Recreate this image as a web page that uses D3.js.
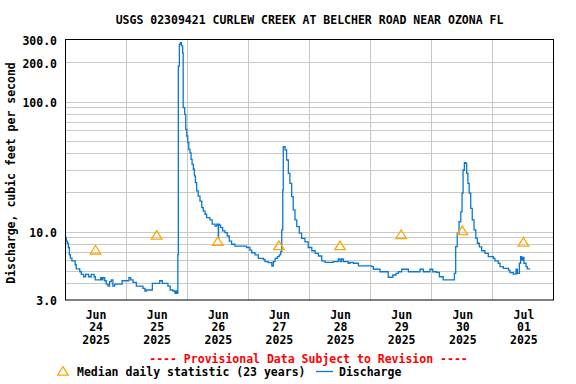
<!DOCTYPE html>
<html lang="en">
<head>
  <meta charset="UTF-8">
  <script src="https://cdnjs.cloudflare.com/ajax/libs/d3/7.8.5/d3.min.js"></script>
  <style>
    body { margin: 0; background: #fff; }
    svg text { font-family: 'DejaVu Sans Mono', monospace; font-weight: bold; font-size: 11.5px; fill: #000; }
  </style>
  <title>Curlew Creek discharge</title>
</head>
<body>
  <div id="chart"></div>
<script>
  const title = "USGS 02309421 CURLEW CREEK AT BELCHER ROAD NEAR OZONA FL";
  const yLabel = "Discharge, cubic feet per second";
  const start = new Date(Date.UTC(2025, 5, 24));
  const end = new Date(Date.UTC(2025, 6, 2));

  // hours after 2025-06-24 00:00
  const hours = [0, 0.5, 0.9, 1.3, 1.7, 2.1, 2.7, 4.0, 4.4, 5.8, 6.4, 7.3, 8.1, 9.3, 10.3, 11.4, 11.9, 14.0, 14.5, 14.9,
    15.6, 16.2, 16.9, 17.5, 18.2, 18.8, 19.5, 22.4, 25.1, 25.8, 26.7, 28.0, 30.6, 31.4, 31.9, 34.3, 37.2, 38.2, 40.4, 41.3,
    42.4, 43.2, 43.7, 44.0,
    44.3, 44.5, 44.9, 45.3, 45.7, 46.2, 46.4, 47.0, 47.4, 47.8, 48.2, 48.6, 49.1, 49.5, 49.9, 50.4, 50.8, 51.2, 51.7, 52.3,
    53.0, 53.7, 54.3, 55.0, 55.6, 56.9, 57.8, 58.9, 59.6, 60.2, 60.3, 60.6, 61.1, 61.9, 62.8, 63.7, 64.5, 65.4, 66.7, 70.7, 71.3,
    72.6, 73.3, 74.6, 75.9, 77.9, 78.5, 79.8, 81.2, 81.8, 82.5, 83.4, 84.1, 84.7, 85.1, 85.5, 85.7, 86.4, 87.0, 87.7, 88.3,
    89.0, 89.6, 90.3, 91.0, 92.0, 92.9, 94.2, 95.5, 96.9, 98.2, 99.5,
    100.8, 102.1, 104.7, 105.3, 107.3, 108.0, 108.6, 109.3, 111.2, 111.9, 113.2, 115.2, 120.4, 121.1, 123.7, 126.9, 128.7, 130.0,
    130.9, 132.2, 134.8, 138.1, 139.4, 140.7, 143.3, 144.4, 145.9, 147.0,
    148.5, 152.5, 152.9, 153.4, 154.0, 154.7, 155.4, 155.9, 156.3, 156.8, 157.3, 157.7, 158.2, 158.7, 159.3, 159.9, 160.6, 161.3,
    161.9, 162.7, 163.6, 164.9, 166.2, 168.2, 168.8, 170.1, 170.8, 172.1, 174.1, 174.7, 176.0, 177.1, 177.6, 178.4, 178.9, 179.3,
    179.7, 180.2, 181.0, 181.5, 182.6];

  const discharge = [9.1, 8.5, 8.2, 7.6, 6.7, 6.3, 6.0, 5.6, 5.2, 4.95, 4.73, 4.53, 4.73, 4.53, 4.73, 4.53, 4.28, 4.45, 4.28, 4.45,
    4.22, 3.98, 3.84, 4.15, 4.28, 3.84, 3.98, 4.22, 4.45, 4.28, 4.10, 3.84, 3.69, 3.52, 3.58, 4.03, 4.22, 4.03, 3.84, 3.58,
    3.52, 3.38, 3.52, 3.38,
    6.7, 189, 278, 286, 270, 239, 90.5, 80.4, 61.6, 54.8, 48.7, 43.3, 40.7, 36.2, 33.2, 30.4, 27.0, 24.0, 20.7, 18.9,
    17.3, 15.4, 14.5, 13.7, 12.9, 12.4, 11.5, 11.1, 11.5, 9.0, 11.5, 11.3, 10.8, 10.2, 9.9, 9.32, 8.5, 8.05, 7.8, 7.8, 7.6,
    7.27, 6.93, 6.66, 6.28, 6.17, 5.91, 5.81, 5.48, 5.91, 6.28, 6.46, 6.66, 7.06, 10.4, 21.1, 45.3, 42.8, 35.8, 28.3, 23.7,
    18.7, 14.8, 12.4, 11.0, 9.8, 8.95, 8.4, 7.6, 7.18, 6.86, 6.54,
    6.0, 5.85, 5.85, 5.91, 6.2, 5.91, 6.2, 5.91, 5.75, 5.85, 5.75, 5.5, 5.41, 5.17, 4.95, 4.49, 4.67, 4.81,
    4.95, 5.17, 4.95, 4.95, 5.17, 4.95, 5.17, 4.95, 4.9, 4.53,
    4.28, 4.28, 4.81, 7.71, 9.8, 12.0, 14.3, 19.9, 30, 34.1, 33.8, 28.3, 23.7, 19.9, 15.2, 12.4, 10.4, 8.95,
    8.2, 7.7, 7.18, 6.86, 6.46, 6.28, 6.0, 5.75, 5.41, 5.26, 5.1, 4.87, 4.75, 5.17, 4.81, 5.75, 6.46, 6.09,
    6.37, 5.75, 5.41, 5.2, 5.2];

  // median daily statistic (23 years), one per day
  const medianDays = ["2025-06-24", "2025-06-25", "2025-06-26", "2025-06-27", "2025-06-28", "2025-06-29", "2025-06-30", "2025-07-01"];
  const medianValues = [7.3, 9.5, 8.5, 7.9, 7.9, 9.6, 10.3, 8.4];

  const yTicks = [3, 10, 100, 200, 300];
  const yGrid = [4, 5, 6, 7, 8, 9, 10, 20, 30, 40, 50, 60, 70, 80, 90, 100, 200];

  var width = 576, height = 384;
  var margin = { top: 40, right: 22, bottom: 84, left: 65 };

  var svg = d3.select("#chart").append("svg")
    .attr("width", width)
    .attr("height", height);

  var x = d3.scaleUtc().domain([start, end]).range([margin.left, width - margin.right]);
  var y = d3.scaleLog().domain([3, 300]).range([height - margin.bottom, margin.top]);

  var series = hours.map((h, i) => ({ date: new Date(+start + h * 3600e3), value: discharge[i] }));
  var medians = medianDays.map((d, i) => ({ date: new Date(d + "T12:00:00Z"), value: medianValues[i] }));

  // grid
  var grid = svg.append("g").attr("stroke", "#c8c8c8").attr("shape-rendering", "crispEdges");
  grid.selectAll(".h").data(yGrid).join("line")
    .attr("x1", x.range()[0]).attr("x2", x.range()[1])
    .attr("y1", d => y(d)).attr("y2", d => y(d));
  grid.selectAll(".v").data(d3.utcDay.range(d3.utcDay.offset(start, 1), end)).join("line")
    .attr("x1", d => x(d)).attr("x2", d => x(d))
    .attr("y1", y.range()[0]).attr("y2", y.range()[1]);

  // y axis labels
  var yAxis = svg.append("g")
    .attr("transform", "translate(" + margin.left + ",0)")
    .call(d3.axisLeft(y).tickValues(yTicks).tickFormat(d3.format(".1f")).tickSize(0).tickPadding(8));
  yAxis.select(".domain").remove();
  yAxis.selectAll("text").attr("font-family", null).attr("font-size", null).attr("dy", "0.38em");

  // x axis labels, three lines per day
  var xAxis = svg.append("g")
    .attr("transform", "translate(0," + (height - margin.bottom) + ")")
    .call(d3.axisBottom(x).tickValues(medians.map(d => d.date)).tickSize(0));
  xAxis.select(".domain").remove();
  xAxis.selectAll("text")
    .attr("font-family", null).attr("font-size", null).attr("dy", null).attr("y", null)
    .text(null)
    .each(function (d) {
      var t = d3.select(this);
      [d3.utcFormat("%b")(d), d3.utcFormat("%d")(d), d3.utcFormat("%Y")(d)].forEach((s, i) => {
        t.append("tspan").attr("x", 0).attr("y", 18.5 + i * 12.8).text(s);
      });
    });

  // discharge line
  svg.append("path")
    .datum(series)
    .attr("fill", "none")
    .attr("stroke", "#0a78d0")
    .attr("stroke-width", 1.3)
    .attr("d", d3.line().curve(d3.curveStepAfter).x(d => x(d.date)).y(d => y(d.value)));

  // median triangles
  function tri(cx, cy) {
    var p = d3.path();
    p.moveTo(cx, cy - 4.3);
    p.lineTo(cx + 5.3, cy + 4.2);
    p.lineTo(cx - 5.3, cy + 4.2);
    p.closePath();
    return p.toString();
  }
  svg.selectAll(".med").data(medians).join("path")
    .attr("fill", "none").attr("stroke", "#ffa500").attr("stroke-width", 1.3)
    .attr("d", d => tri(x(d.date), y(d.value)));

  // frame
  svg.append("rect")
    .attr("x", margin.left + 0.5).attr("y", margin.top - 0.5)
    .attr("width", x.range()[1] - margin.left - 1).attr("height", y.range()[0] - margin.top + 0.5)
    .attr("fill", "none").attr("stroke", "#000").attr("stroke-width", 1);

  var cx = (x.range()[0] + x.range()[1]) / 2;
  svg.append("text").attr("x", cx).attr("y", 24).attr("text-anchor", "middle").text(title);
  svg.append("text")
    .attr("transform", "translate(15.3," + ((y.range()[0] + y.range()[1]) / 2 + 3) + ") rotate(-90)")
    .attr("text-anchor", "middle").text(yLabel);

  svg.append("text").attr("x", cx - 1).attr("y", 363).attr("text-anchor", "middle")
    .style("fill", "#ff0000").text("---- Provisional Data Subject to Revision ----");

  // legend
  svg.append("path").attr("fill", "none").attr("stroke", "#ffa500").attr("stroke-width", 1.3).attr("d", tri(63, 371));
  svg.append("text").attr("x", 77).attr("y", 376).text("Median daily statistic (23 years)");
  svg.append("line").attr("x1", 316).attr("x2", 333).attr("y1", 371.5).attr("y2", 371.5)
    .attr("stroke", "#0a78d0").attr("stroke-width", 1.3);
  svg.append("text").attr("x", 339).attr("y", 376).text("Discharge");
</script>
</body>
</html>
